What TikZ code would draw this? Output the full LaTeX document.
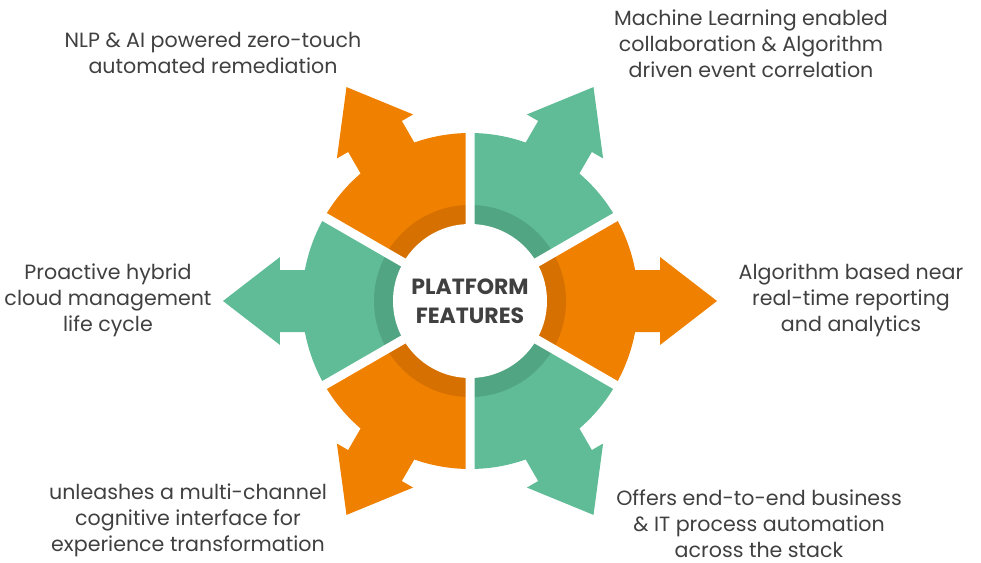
\documentclass[tikz,border=0pt]{standalone}
\usepackage{fontspec}
\setmainfont{Poppins}
\definecolor{featorange}{RGB}{240,128,0}
\definecolor{featorangedark}{RGB}{214,112,0}
\definecolor{featgreen}{RGB}{96,188,150}
\definecolor{featgreendark}{RGB}{82,165,130}
\definecolor{labelgray}{RGB}{64,64,64}

\begin{document}
\begin{tikzpicture}[x=1pt,y=1pt,
    gap/.style={draw=white, line width=9pt},
    label/.style={text=labelgray, align=center, inner sep=1pt, font=\fontsize{20.6}{26}\selectfont},
    core/.style={circle, fill=white, minimum size=154pt, inner sep=0pt,
                 text=labelgray, align=center, font=\bfseries\fontsize{22}{29}\selectfont}]
  \useasboundingbox (-470,-261) rectangle (511,301);

  % the six arms: sector plus arrow
  \fill[featorange, rotate=0]   (0,0) -- (-30:168) arc[start angle=-30, end angle=30, radius=168] -- cycle
        (150,-31) -- (190,-31) -- (190,-44) -- (247,0) -- (190,44) -- (190,31) -- (150,31) -- cycle;
  \fill[featgreen, rotate=60]   (0,0) -- (-30:168) arc[start angle=-30, end angle=30, radius=168] -- cycle
        (150,-31) -- (190,-31) -- (190,-44) -- (247,0) -- (190,44) -- (190,31) -- (150,31) -- cycle;
  \fill[featorange, rotate=120] (0,0) -- (-30:168) arc[start angle=-30, end angle=30, radius=168] -- cycle
        (150,-31) -- (190,-31) -- (190,-44) -- (247,0) -- (190,44) -- (190,31) -- (150,31) -- cycle;
  \fill[featgreen, rotate=180]  (0,0) -- (-30:168) arc[start angle=-30, end angle=30, radius=168] -- cycle
        (150,-31) -- (190,-31) -- (190,-44) -- (247,0) -- (190,44) -- (190,31) -- (150,31) -- cycle;
  \fill[featorange, rotate=240] (0,0) -- (-30:168) arc[start angle=-30, end angle=30, radius=168] -- cycle
        (150,-31) -- (190,-31) -- (190,-44) -- (247,0) -- (190,44) -- (190,31) -- (150,31) -- cycle;
  \fill[featgreen, rotate=300]  (0,0) -- (-30:168) arc[start angle=-30, end angle=30, radius=168] -- cycle
        (150,-31) -- (190,-31) -- (190,-44) -- (247,0) -- (190,44) -- (190,31) -- (150,31) -- cycle;

  % darker inner ring
  \fill[featorangedark, rotate=0]   (0,0) -- (-30:96) arc[start angle=-30, end angle=30, radius=96] -- cycle;
  \fill[featgreendark, rotate=60]   (0,0) -- (-30:96) arc[start angle=-30, end angle=30, radius=96] -- cycle;
  \fill[featorangedark, rotate=120] (0,0) -- (-30:96) arc[start angle=-30, end angle=30, radius=96] -- cycle;
  \fill[featgreendark, rotate=180]  (0,0) -- (-30:96) arc[start angle=-30, end angle=30, radius=96] -- cycle;
  \fill[featorangedark, rotate=240] (0,0) -- (-30:96) arc[start angle=-30, end angle=30, radius=96] -- cycle;
  \fill[featgreendark, rotate=300]  (0,0) -- (-30:96) arc[start angle=-30, end angle=30, radius=96] -- cycle;

  % white gaps between the arms
  \draw[gap] (30:180) -- (210:180) (90:180) -- (270:180) (150:180) -- (330:180);

  \node at (0,0) [core] (platform) {PLATFORM\\FEATURES};

  \node at (281,257)   [label] (txt-ml)      {Machine Learning enabled\\collaboration \& Algorithm\\driven event correlation};
  \node at (-257,248)  [label] (txt-nlp)     {NLP \& AI powered zero-touch\\automated remediation};
  \node at (-362,1)    [label] (txt-hybrid)  {Proactive hybrid\\cloud management\\life cycle};
  \node at (381,1)     [label] (txt-report)  {Algorithm based near\\real-time reporting\\and analytics};
  \node at (-282,-219) [label] (txt-channel) {unleashes a multi-channel\\cognitive interface for\\experience transformation};
  \node at (289,-223)  [label] (txt-process) {Offers end-to-end business\\\& IT process automation\\across the stack};
\end{tikzpicture}
\end{document}
